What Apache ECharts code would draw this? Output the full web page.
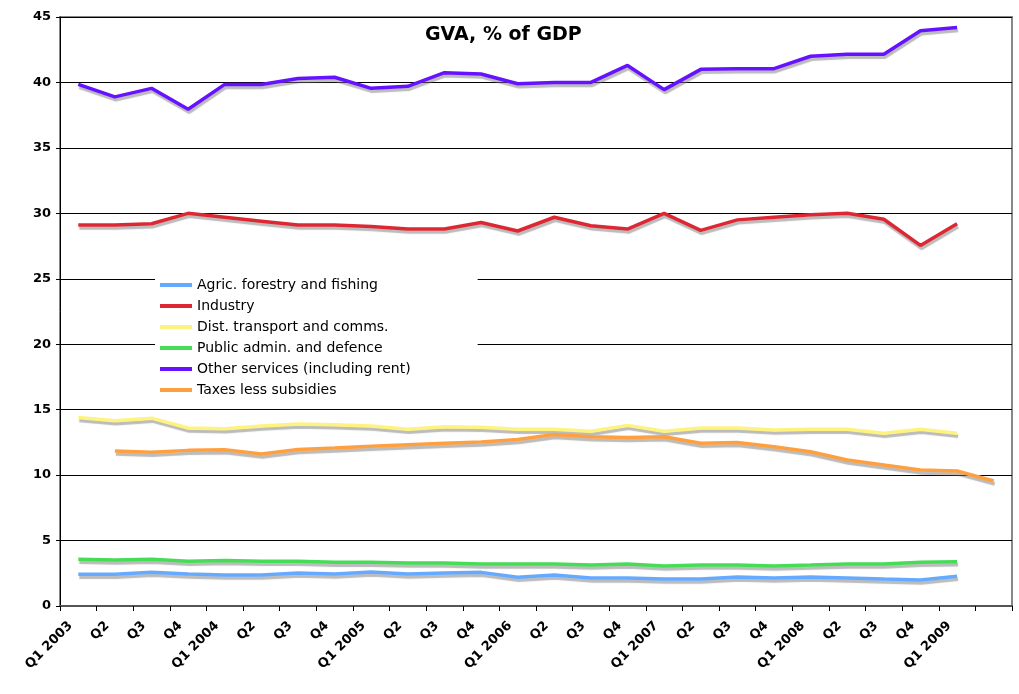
<!DOCTYPE html>
<html>
<head>
<meta charset="utf-8">
<script src="https://cdn.jsdelivr.net/npm/echarts@6/dist/echarts.min.js"></script>
<style>
html,body{margin:0;padding:0;background:#fff;}
#chart{width:1019px;height:694px;}
</style>
</head>
<body>
<div id="chart"></div>
<script>
const categories = ['Q1 2003','Q2','Q3','Q4','Q1 2004','Q2','Q3','Q4','Q1 2005','Q2','Q3','Q4','Q1 2006','Q2','Q3','Q4','Q1 2007','Q2','Q3','Q4','Q1 2008','Q2','Q3','Q4','Q1 2009',''];
const agric = [2.42,2.42,2.57,2.44,2.37,2.37,2.52,2.44,2.6,2.44,2.52,2.57,2.19,2.37,2.14,2.14,2.06,2.06,2.22,2.14,2.22,2.14,2.06,1.99,2.27,null];
const industry = [29.1,29.1,29.2,30.0,29.7,29.4,29.1,29.1,29.0,28.8,28.8,29.3,28.65,29.7,29.05,28.8,30.0,28.7,29.5,29.7,29.9,30.0,29.55,27.55,29.2,null];
const dist = [14.4,14.15,14.35,13.6,13.55,13.75,13.9,13.85,13.75,13.5,13.7,13.65,13.5,13.5,13.35,13.8,13.35,13.6,13.6,13.45,13.5,13.5,13.2,13.5,13.2,null];
const publicAdmin = [3.58,3.51,3.58,3.41,3.48,3.41,3.41,3.34,3.34,3.28,3.28,3.21,3.21,3.21,3.13,3.21,3.06,3.13,3.13,3.06,3.13,3.21,3.21,3.34,3.39,null];
const other = [39.85,38.9,39.55,37.95,39.85,39.85,40.3,40.4,39.55,39.7,40.75,40.65,39.9,40.0,40.0,41.3,39.45,41.0,41.05,41.05,42.0,42.15,42.15,43.95,44.2,null];
const taxes = [null,11.84,11.74,11.89,11.94,11.61,11.96,12.07,12.2,12.32,12.43,12.53,12.72,13.1,12.93,12.88,12.93,12.43,12.5,12.17,11.79,11.15,10.77,10.39,10.31,9.55];
const yTicks = [0,5,10,15,20,25,30,35,40,45];

const names = ['Agric. forestry and fishing','Industry','Dist. transport and comms.','Public admin. and defence','Other services (including rent)','Taxes less subsidies'];
const colors = ['#66aaff','#dd2833','#fff380','#44dd55','#6611ff','#ffa040'];
const dataSets = [agric, industry, dist, publicAdmin, other, taxes];

const chart = echarts.init(document.getElementById('chart'), null, {renderer:'canvas'});
const font = '"DejaVu Sans", Verdana, sans-serif';
chart.setOption({
  animation:false,
  backgroundColor:'#fff',
  title:{
    text:'GVA, % of GDP', left:420, top:21,
    textStyle:{fontFamily:font, fontWeight:'bold', fontSize:19, color:'#000'}
  },
  legend:{
    orient:'vertical', left:155, top:273,
    backgroundColor:'#fff',
    padding:[5,67,5,5],
    itemWidth:32, itemHeight:4, itemGap:7,
    icon:'rect',
    textStyle:{fontFamily:font, fontSize:14, color:'#000'},
    data:names
  },
  grid:{left:60, right:7, top:17, bottom:88, show:true, borderColor:'#888', borderWidth:2, backgroundColor:'transparent'},
  xAxis:{
    type:'category', data:categories, boundaryGap:true,
    axisLine:{lineStyle:{color:'#555', width:2}},
    axisTick:{show:true, length:5, lineStyle:{color:'#000'}, interval:0},
    axisLabel:{interval:0, rotate:45, fontFamily:font, fontWeight:'bold', fontSize:13, color:'#000', margin:10, padding:[0,11,0,0]},
    splitLine:{show:false}
  },
  yAxis:{
    type:'value', min:0, max:45, interval:5,
    axisLine:{show:true, lineStyle:{color:'#000', width:1}},
    axisTick:{show:true, length:4, lineStyle:{color:'#000'}},
    axisLabel:{fontFamily:font, fontWeight:'bold', fontSize:13, color:'#000', margin:9,
      formatter:v=>yTicks.includes(v)?String(v):''},
    splitLine:{show:true, lineStyle:{color:'#000', width:1}}
  },
  series: dataSets.map((d,i)=>({
    name:names[i], type:'line', data:d, showSymbol:false, symbol:'none',
    connectNulls:false,
    lineStyle:{color:colors[i], width:3.5, shadowColor:'rgba(120,120,120,0.5)', shadowOffsetX:1, shadowOffsetY:3, shadowBlur:1},
    itemStyle:{color:colors[i]},
    z:2+i
  }))
});
</script>
</body>
</html>
